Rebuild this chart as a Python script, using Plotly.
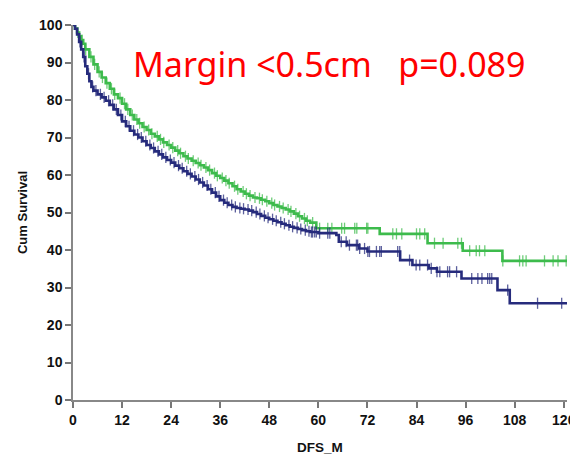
import numpy as np
import plotly.graph_objects as go

# ---- data ----
green_t = [0, 0.5, 1, 1.5, 2, 2.5, 3, 4, 5, 6, 7, 8, 9, 10, 11, 12, 13, 14, 15, 16, 17, 18, 19, 20,
           21, 22, 23, 24, 25, 26, 27, 28, 29, 30, 31, 32, 33, 34, 35, 36, 37, 38, 39, 40, 41, 42,
           43, 44, 45, 46, 47, 48, 49, 50, 51, 52, 53, 54, 55, 56, 57, 58, 59.5, 75, 86.7, 95.3, 105]
green_s = [100, 99, 98, 97, 96, 95, 93.5, 91.5, 89.5, 87.5, 86, 84.5, 83, 81.5, 80.5, 79, 77.5, 76,
           74.8, 73.8, 72.8, 72, 71, 70.3, 69.5, 68.7, 68, 67.3, 66.5, 65.8, 65, 64.4, 63.8, 63.2,
           62.6, 62, 61.3, 60.5, 59.8, 59.2, 58.5, 57.8, 57, 56.2, 55.6, 55, 54.5, 54, 53.8, 53.4,
           53, 52.5, 52, 51.6, 51.2, 50.8, 50.3, 49.7, 49, 48.4, 47.8, 47.3, 45.8, 44.3, 41.8, 39.8, 37.1]

blue_t = [0, 0.5, 1, 1.5, 2, 2.5, 3, 3.5, 4, 4.5, 5, 6, 7, 8, 9, 10, 11, 12, 13, 14, 15, 16, 17, 18,
          19, 20, 21, 22, 23, 24, 25, 26, 27, 28, 29, 30, 31, 32, 33, 34, 35, 36, 37, 38, 39, 40, 41,
          42, 43, 44, 45, 46, 47, 48, 49, 50, 51, 52, 53, 54, 55, 56, 57, 58, 60, 64.4, 65, 67, 70,
          72, 80, 83, 87, 89, 95, 103.8, 106.8]
blue_s = [100, 99, 97.5, 95.5, 93.5, 91.5, 89, 87, 85, 83.5, 82.5, 81.5, 80.7, 79.8, 78.7, 77.5, 76,
          74.3, 73, 71.8, 70.8, 70, 69, 68, 67.2, 66.3, 65.5, 64.7, 64, 63.3, 62.5, 61.8, 61, 60.3,
          59.6, 58.8, 58, 57.2, 56.2, 55.3, 54.3, 53.3, 52.6, 52, 51.5, 51.2, 51, 50.8, 50.5, 50.1,
          49.6, 49.1, 48.6, 48.2, 47.8, 47.4, 47, 46.6, 46.2, 45.9, 45.6, 45.3, 45, 44.8, 44.5, 44,
          42.2, 41.3, 40.4, 39.6, 37.3, 36, 35.1, 34.2, 32.4, 29.3, 25.8]

green_cens = [1.2, 2.2, 3.1, 4.4, 5.3, 6.4, 7.2, 8.3, 9.4, 10.2, 11.5, 12.6, 13.4, 14.5, 15.6, 16.3,
              17.4, 18.5, 19.3, 20.6, 21.4, 22.2, 23.5, 24.4, 25.6, 26.3, 27.5, 28.2, 29.4, 30.6,
              31.3, 32.5, 33.4, 34.6, 35.3, 36.5, 37.4, 38.2, 39.5, 40.3, 41.6, 42.4, 43.3, 44.5,
              45.6, 46.3, 47.4, 48.6, 49.3, 50.5, 51.4, 52.6, 53.3, 54.5, 55.4, 56.6, 57.3, 58.6,
              60.3, 62.3, 63.3, 65.7, 66.4, 68.9, 69.4, 71.8, 72.1, 78.2, 79.1, 80.4, 84, 84.8,
              86, 88.4, 90.5, 94.1, 95, 97, 98.6, 99.4, 100.7, 105.1, 109.2, 110, 110.8, 115.3,
              117.4, 118.6, 120.6]
blue_cens = [1.7, 2.7, 3.8, 4.8, 5.6, 6.7, 7.6, 8.7, 9.7, 10.6, 11.7, 12.8, 13.7, 14.8, 15.8, 16.7,
             17.8, 18.8, 19.7, 20.8, 21.7, 22.7, 23.8, 24.7, 25.8, 26.7, 27.8, 28.7, 29.8, 30.7,
             31.7, 32.8, 33.7, 34.8, 35.7, 36.8, 37.7, 38.8, 39.7, 40.8, 41.7, 42.8, 43.7, 44.8,
             45.7, 46.8, 47.7, 48.8, 49.7, 50.8, 51.7, 52.8, 53.7, 54.8, 55.7, 56.8, 57.7, 58.3,
             58.6, 59.1, 59.5, 60.3, 62.3, 62.8, 65.6, 66.8, 67.6, 69.3, 69.6, 70.1, 71.3, 72.1,
             72.5, 74.2, 75, 75.4, 79.4, 79.9, 82.3, 83.9, 84.8, 86.7, 87.6, 89, 89.7, 91.6, 92.1,
             93.8, 97.5, 99, 100, 101.4, 101.9, 102.4, 106.3, 113.6, 119.5]

x_end = 121
x_ticks = [0, 12, 24, 36, 48, 60, 72, 84, 96, 108, 120]
y_ticks = [0, 10, 20, 30, 40, 50, 60, 70, 80, 90, 100]

GREEN = "#3dbb4c"
BLUE = "#262b7c"


def step_at(ts, ss, t):
    idx = np.searchsorted(np.asarray(ts), t, side="right") - 1
    return np.asarray(ss)[idx]


fig = go.Figure()
for ts, ss, cens, col in [(green_t, green_s, green_cens, GREEN), (blue_t, blue_s, blue_cens, BLUE)]:
    fig.add_trace(go.Scatter(x=list(ts) + [x_end], y=list(ss) + [ss[-1]], mode="lines",
                             line=dict(color=col, width=2.6, shape="hv"), showlegend=False,
                             hoverinfo="skip", cliponaxis=True))
    fig.add_trace(go.Scatter(x=cens, y=step_at(ts, ss, np.asarray(cens)), mode="markers",
                             marker=dict(symbol="line-ns-open", size=8, color=col,
                                         line=dict(color=col, width=1.3), opacity=0.75),
                             showlegend=False, hoverinfo="skip"))

fig.add_annotation(text="Margin &lt;0.5cm   p=0.089", x=62.6, y=89.6, xref="x", yref="y",
                   showarrow=False, font=dict(family="Noto Sans", size=34, color="#ff0000"))

axis_font = dict(family="Liberation Sans, Arial", size=14, color="#111111")
fig.update_layout(
    width=570, height=456,
    margin=dict(l=73, r=3, t=25, b=56),
    plot_bgcolor="white", paper_bgcolor="white",
    xaxis=dict(range=[0, 120.8], tickvals=x_ticks, ticktext=[f"<b>{v}</b>" for v in x_ticks],
               ticks="outside", ticklen=6, tickcolor="#777777", tickwidth=1.5,
               ticklabeloverflow="allow", automargin=False,
               showline=True, linecolor="#888888", linewidth=1.5, showgrid=False, zeroline=False,
               tickfont=axis_font,
               title=dict(text="<b>DFS_M</b>", font=dict(family="Liberation Sans, Arial", size=13.5, color="#111"),
                          standoff=16)),
    yaxis=dict(range=[0, 100], tickvals=y_ticks, ticktext=[f"<b>{v}</b>" for v in y_ticks],
               ticks="outside", ticklen=6, tickcolor="#777777", tickwidth=1.5, automargin=False,
               showline=True, linecolor="#888888", linewidth=1.5, showgrid=False, zeroline=False,
               tickfont=axis_font,
               title=dict(text="<b>Cum Survival</b>", font=dict(family="Liberation Sans, Arial", size=13, color="#111"),
                          standoff=9)),
)

fig.write_html("out.html")
